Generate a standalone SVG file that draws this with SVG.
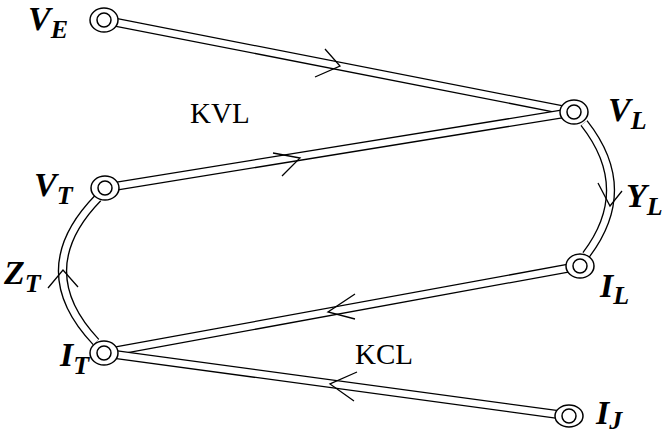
<svg xmlns="http://www.w3.org/2000/svg" width="666" height="439" viewBox="0 0 666 439">
<style>
.outer{fill:none;stroke:#000;stroke-width:9}
.inner{fill:none;stroke:#fff;stroke-width:6.4}
.arr{fill:none;stroke:#000;stroke-width:1.3;stroke-linejoin:miter}
.ring{fill:#fff;stroke:#000;stroke-width:1.5}
.dot{fill:none;stroke:#000;stroke-width:1.5}
.lbl{font-family:"Liberation Serif","Times New Roman",serif;font-weight:bold;font-style:italic;font-size:34px;fill:#000}
.sub{font-size:26px}
.txt{font-family:"Liberation Serif","Times New Roman",serif;font-size:29px;fill:#000}
</style>
<rect width="666" height="439" fill="#fff"/>
<g id="connectors">
  <g id="c-VE-VL"><path class="outer" d="M104,20 L574,112"/><path class="inner" d="M104,20 L574,112"/></g>
  <g id="c-VT-VL"><path class="outer" d="M105,188 L574,112"/><path class="inner" d="M105,188 L574,112"/></g>
  <g id="c-VL-IL"><path class="outer" d="M584,123 Q636,189 586,255"/><path class="inner" d="M584,123 Q636,189 586,255"/></g>
  <g id="c-VT-IT"><path class="outer" d="M98,198 Q28,270 96,342"/><path class="inner" d="M98,198 Q28,270 96,342"/></g>
  <g id="c-IT-IL"><path class="outer" d="M104,353 L580,266"/><path class="inner" d="M104,353 L580,266"/></g>
  <g id="c-IT-IJ"><path class="outer" d="M104,353 L569,416"/><path class="inner" d="M104,353 L569,416"/></g>
  <path class="arr" d="M325,49 L340,66 L315,77"/>
  <path class="arr" d="M273,153 L300,158 L282,176"/>
  <path class="arr" d="M598,183 L610,206 L622,191"/>
  <path class="arr" d="M48,288 L63,270 L78,287"/>
  <path class="arr" d="M355,294 L328,312 L355,319"/>
  <path class="arr" d="M357,372 L330,384 L354,401"/>
</g>
<g id="node-VE"><ellipse class="ring" cx="104" cy="20" rx="14" ry="12"/><circle class="dot" cx="104" cy="20" r="7"/><text class="lbl" x="28" y="30">V<tspan class="sub" dy="8">E</tspan></text></g>
<g id="node-VL"><ellipse class="ring" cx="574" cy="112" rx="14" ry="12"/><circle class="dot" cx="574" cy="112" r="7"/><text class="lbl" x="608" y="121">V<tspan class="sub" dy="8">L</tspan></text></g>
<g id="node-VT"><ellipse class="ring" cx="105" cy="188" rx="14" ry="12"/><circle class="dot" cx="105" cy="188" r="7"/><text class="lbl" x="34" y="196">V<tspan class="sub" dy="8">T</tspan></text></g>
<g id="node-IL"><ellipse class="ring" cx="580" cy="266" rx="14" ry="12"/><circle class="dot" cx="580" cy="266" r="7"/><text class="lbl" x="600" y="297">I<tspan class="sub" dy="7">L</tspan></text></g>
<g id="node-IT"><ellipse class="ring" cx="104" cy="353" rx="14" ry="12"/><circle class="dot" cx="104" cy="353" r="7"/><text class="lbl" x="60" y="366">I<tspan class="sub" dy="8">T</tspan></text></g>
<g id="node-IJ"><ellipse class="ring" cx="569" cy="416" rx="14" ry="11"/><circle class="dot" cx="569" cy="416" r="7"/><text class="lbl" x="596" y="424">I<tspan class="sub" dy="5">J</tspan></text></g>
<g id="node-YL"><text class="lbl" x="626" y="207">Y<tspan class="sub" dy="8">L</tspan></text></g>
<g id="node-ZT"><text class="lbl" x="4" y="284">Z<tspan class="sub" dy="8">T</tspan></text></g>
<g id="label-KVL"><text class="txt" x="190" y="123">KVL</text></g>
<g id="label-KCL"><text class="txt" x="355" y="364">KCL</text></g>
</svg>
